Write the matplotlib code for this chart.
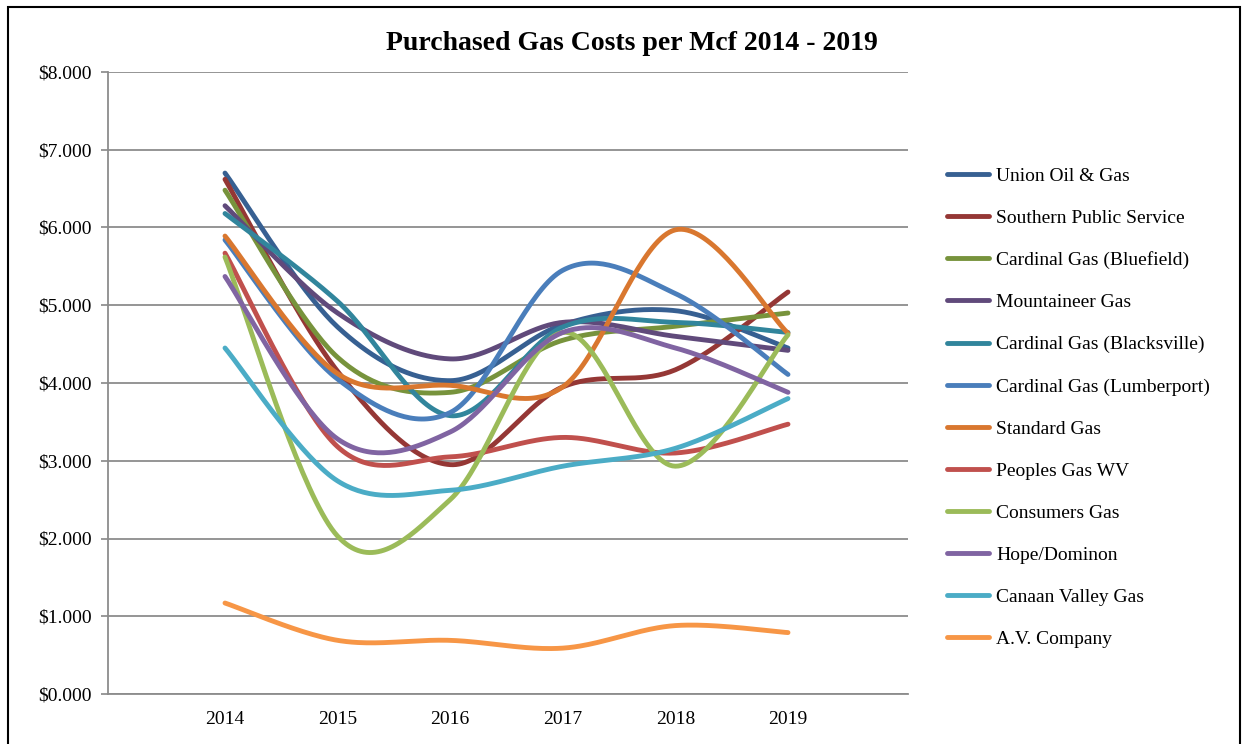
import numpy as np
import matplotlib.pyplot as plt
from matplotlib.patches import Rectangle

plt.rcParams["font.family"] = ["Liberation Serif", "DejaVu Serif"]

years = [2014, 2015, 2016, 2017, 2018, 2019]

union_oil = [6.70, 4.72, 4.03, 4.75, 4.93, 4.45]
southern_public = [6.62, 4.15, 2.95, 3.95, 4.17, 5.17]
cardinal_bluefield = [6.48, 4.33, 3.88, 4.55, 4.73, 4.90]
mountaineer = [6.28, 4.90, 4.31, 4.78, 4.60, 4.42]
cardinal_blacksville = [6.18, 5.05, 3.58, 4.72, 4.78, 4.65]
cardinal_lumberport = [5.84, 4.05, 3.62, 5.45, 5.15, 4.11]
standard_gas = [5.89, 4.12, 3.97, 3.95, 5.97, 4.64]
peoples_gas = [5.67, 3.18, 3.05, 3.30, 3.10, 3.47]
consumers_gas = [5.62, 2.03, 2.50, 4.65, 2.93, 4.62]
hope_dominion = [5.37, 3.28, 3.37, 4.65, 4.45, 3.88]
canaan_valley = [4.45, 2.74, 2.62, 2.93, 3.16, 3.80]
av_company = [1.17, 0.69, 0.69, 0.59, 0.88, 0.79]

names = ["Union Oil & Gas", "Southern Public Service", "Cardinal Gas (Bluefield)",
         "Mountaineer Gas", "Cardinal Gas (Blacksville)", "Cardinal Gas (Lumberport)",
         "Standard Gas", "Peoples Gas WV", "Consumers Gas", "Hope/Dominon",
         "Canaan Valley Gas", "A.V. Company"]
series = [union_oil, southern_public, cardinal_bluefield, mountaineer,
          cardinal_blacksville, cardinal_lumberport, standard_gas, peoples_gas,
          consumers_gas, hope_dominion, canaan_valley, av_company]
colors = ["#376092", "#953735", "#77933C", "#604A7B", "#31859C", "#4A7EBB",
          "#D9772F", "#C0504D", "#9BBB59", "#8064A2", "#4BACC6", "#F79646"]


def smooth(xs, ys, n=40):
    # Excel-style smoothed line: Catmull-Rom segments as cubic Beziers
    pts = np.column_stack([xs, ys]).astype(float)
    padded = np.vstack([pts[0], pts, pts[-1]])
    t = np.linspace(0, 1, n)[:, None]
    out = []
    for i in range(len(pts) - 1):
        p0 = padded[i + 1]
        p3 = padded[i + 2]
        c1 = p0 + (padded[i + 2] - padded[i]) / 6
        c2 = p3 - (padded[i + 3] - padded[i + 1]) / 6
        seg = (1 - t) ** 3 * p0 + 3 * (1 - t) ** 2 * t * c1 + 3 * (1 - t) * t ** 2 * c2 + t ** 3 * p3
        out.append(seg if i == 0 else seg[1:])
    out = np.vstack(out)
    return out[:, 0], out[:, 1]


fig = plt.figure(figsize=(12.5, 7.44), dpi=100)
ax = fig.add_axes([108 / 1250, 1 - 694 / 744, 800 / 1250, 622 / 744])

for name, vals, col in zip(names, series, colors):
    sx, sy = smooth(years, vals)
    ax.plot(sx, sy, color=col, lw=3.5, solid_capstyle="round", label=name)

ax.set_ylim(0, 8)
ax.set_xlim(2014 - 117 / 112.6, 2019 + 120 / 112.6)
ax.set_yticks(np.arange(0, 9, 1))
ax.set_yticklabels(["${:.3f}".format(v) for v in range(9)], fontsize=14)
ax.set_xticks(years)
ax.set_xticklabels([str(y) for y in years], fontsize=14)
ax.tick_params(axis="x", length=0, pad=12)
ax.tick_params(axis="y", length=5, width=1.2, color="#888888", pad=7)
ax.grid(axis="y", color="#8c8c8c", lw=1.3)
ax.set_axisbelow(True)
for s in ["top", "right"]:
    ax.spines[s].set_visible(False)
for s in ["left", "bottom"]:
    ax.spines[s].set_color("#8c8c8c")
    ax.spines[s].set_linewidth(1.3)

fig.text(632 / 1250, 1 - 43 / 744, "Purchased Gas Costs per Mcf 2014 - 2019",
         ha="center", va="center", fontsize=20, fontweight="bold")

ax.legend(loc="upper left", bbox_to_anchor=(947 / 1250, 1 - 167 / 744),
          bbox_transform=fig.transFigure, frameon=False, fontsize=14,
          handlelength=2.16, handletextpad=0.36, labelspacing=1.26,
          borderpad=0, borderaxespad=0)

fig.patches.append(Rectangle((8 / 1250, -0.02), 1232 / 1250, 1.02 - 7 / 744,
                             transform=fig.transFigure, fill=False,
                             edgecolor="black", lw=1.5))

fig.savefig("out.png", dpi=100)
